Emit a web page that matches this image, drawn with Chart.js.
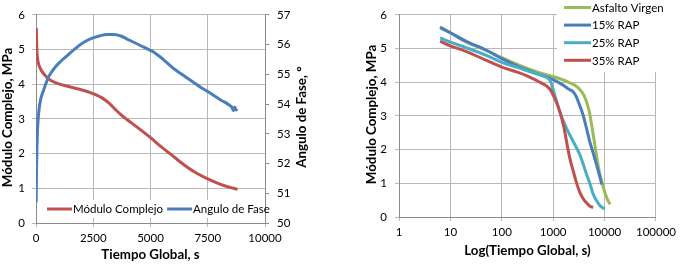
<!DOCTYPE html>
<html><head><meta charset="utf-8">
<script src="https://cdn.jsdelivr.net/npm/chart.js@4/dist/chart.umd.min.js"></script>
<style>
html,body{margin:0;padding:0;background:#fff;width:680px;height:264px;overflow:hidden}
#l{position:absolute;left:0;top:0}
#r{position:absolute;left:340px;top:0}
</style></head><body>
<canvas id="l" width="340" height="264"></canvas>
<canvas id="r" width="340" height="264"></canvas>
<script>
// ---------- Left chart data ----------
const leftNames = ['Módulo Complejo', 'Angulo de Fase'];
const timeModulo = [15,25,40,60,100,170,250,400,600,900,1340,1800,2200,2600,2900,3200,3500,3800,4000,4500,5000,5500,6000,6500,7000,7500,8000,8400,8800];
const modulo     = [5.62,5.30,4.95,4.78,4.62,4.48,4.38,4.25,4.13,4.03,3.95,3.87,3.80,3.70,3.60,3.45,3.25,3.07,2.97,2.72,2.46,2.18,1.92,1.66,1.44,1.27,1.13,1.04,0.97];
const timeFase = [8,15,25,40,60,85,130,200,300,400,540,700,900,1100,1350,1700,2070,2400,2800,3100,3400,3700,4000,4400,4800,5100,5400,5700,6000,6300,6600,6900,7200,7500,7700,7900,8100,8300,8450,8550,8620,8680,8730,8780];
const fase     = [50.7,51.3,51.9,52.5,53.0,53.4,53.8,54.15,54.4,54.62,54.9,55.1,55.3,55.45,55.62,55.86,56.07,56.2,56.3,56.34,56.34,56.29,56.18,56.03,55.88,55.77,55.60,55.40,55.20,55.04,54.88,54.72,54.56,54.42,54.32,54.22,54.12,54.04,53.96,53.90,53.78,53.90,53.80,53.85];
const leftXTicks = [0,2500,5000,7500,10000];
const moduloTicks = [0,1,2,3,4,5,6];
const faseTicks = [50,51,52,53,54,55,56,57];

// ---------- Right chart data ----------
const rightNames = ['Asfalto Virgen','15% RAP','25% RAP','35% RAP'];
const tVirgen = [6.3,10,20,50,100,200,500,1000,2000,3000,4000,5000,6000,7000,8000,9000,10000,11500,12800];
const mVirgen = [5.65,5.47,5.20,4.95,4.73,4.53,4.30,4.17,4.00,3.85,3.60,3.15,2.45,1.80,1.30,1.00,0.75,0.50,0.38];
const tRap15 = [6.3,10,20,50,100,200,500,1000,1500,2000,2500,2840,3300,3830,4500,5140,6000,6940,8000,8800];
const mRap15 = [5.62,5.47,5.22,4.95,4.70,4.48,4.25,4.08,3.93,3.80,3.70,3.56,3.30,3.02,2.60,2.24,1.90,1.56,1.22,0.97];
const tRap25 = [6.3,10,20,50,100,200,500,870,1080,1450,1820,2450,3300,4450,5200,6000,7000,8100,9000,10100];
const mRap25 = [5.32,5.19,5.03,4.80,4.59,4.44,4.24,4.05,3.60,2.98,2.63,2.24,1.85,1.27,0.98,0.68,0.48,0.34,0.28,0.24];
const tRap35 = [6.3,10,20,50,100,200,300,550,860,1080,1350,1600,1820,2100,2450,2800,3300,4000,4800,5500,6000];
const mRap35 = [5.22,5.08,4.92,4.65,4.45,4.30,4.20,4.00,3.80,3.51,3.12,2.70,2.24,1.75,1.37,1.05,0.73,0.50,0.37,0.30,0.29];
const logTicks = [1,10,100,1000,10000,100000];
const rightYTicks = [0,1,2,3,4,5,6];

// ---------- styling ----------
const FONT = 'Lato, "Open Sans", sans-serif';
const GRID = '#b8b8b8';
const AXIS = '#8c8c8c';
const RED = '#c0504d', BLUE = '#4a7ebb', GREEN = '#9bbb59', CYAN = '#4bacc6';
const tickFont = {family: FONT, size: 11.5};

function pts(xs, ys){ return xs.map((x,i)=>({x:x, y:ys[i]})); }
function fixed(list){ return s => { s.ticks = list.map(v=>({value:v})); }; }

function titles(list){
  return {id:'titles', afterDraw(chart){
    const ctx = chart.ctx;
    ctx.save();
    ctx.fillStyle = '#000';
    ctx.font = 'bold 13.3px ' + FONT;
    ctx.textAlign = 'center';
    ctx.textBaseline = 'middle';
    list.forEach(t=>{
      ctx.save(); ctx.translate(t.x, t.y);
      if (t.rot) ctx.rotate(-Math.PI/2);
      ctx.fillText(t.text, 0, 0);
      ctx.restore();
    });
    ctx.restore();
  }};
}

const leftLegend = {id:'leftLegend', afterDraw(chart){
  const ctx = chart.ctx;
  ctx.save();
  ctx.fillStyle = '#fff';
  ctx.fillRect(42, 200, 221, 18);
  ctx.font = '11.5px ' + FONT;
  ctx.textBaseline = 'middle';
  let x = 47; const y = 209;
  chart.data.datasets.forEach(ds=>{
    ctx.strokeStyle = ds.borderColor; ctx.lineWidth = 3;
    ctx.beginPath(); ctx.moveTo(x, y); ctx.lineTo(x+25, y); ctx.stroke();
    x += 26;
    ctx.fillStyle = '#000';
    ctx.fillText(ds.label, x, y+0.5);
    x += ctx.measureText(ds.label).width + 4;
  });
  ctx.restore();
}};

const rightLegend = {id:'rightLegend', afterDraw(chart){
  const ctx = chart.ctx;
  ctx.save();
  ctx.fillStyle = '#fff';
  ctx.fillRect(217, 0, 123, 72);
  ctx.font = '11.5px ' + FONT;
  ctx.textBaseline = 'middle';
  const order = chart.data.datasets.slice().sort((a,b)=>a.legendIndex-b.legendIndex);
  order.forEach((ds,i)=>{
    const y = 7.5 + i*17.6;
    ctx.strokeStyle = ds.borderColor; ctx.lineWidth = 3;
    ctx.beginPath(); ctx.moveTo(224, y); ctx.lineTo(251, y); ctx.stroke();
    ctx.fillStyle = '#000';
    ctx.fillText(ds.label, 252, y+0.5);
  });
  ctx.restore();
}};

const common = {
  responsive:false, animation:false, devicePixelRatio:1,
  plugins:{legend:{display:false}, tooltip:{enabled:false}},
  elements:{point:{radius:0}, line:{borderWidth:3, cubicInterpolationMode:'monotone', borderCapStyle:'butt'}}
};

new Chart(document.getElementById('l'), {
  type:'scatter',
  data:{datasets:[
    {label:leftNames[0], data:pts(timeModulo, modulo), showLine:true, borderColor:RED, backgroundColor:RED, yAxisID:'y', order:2},
    {label:leftNames[1], data:pts(timeFase, fase), showLine:true, borderColor:BLUE, backgroundColor:BLUE, yAxisID:'y1', order:1}
  ]},
  options:Object.assign({}, common, {
    layout:{padding:{top:12, left:0, right:0, bottom:0}},
    scales:{
      x:{type:'linear', min:0, max:10000, afterBuildTicks:fixed(leftXTicks), afterFit:s=>{s.height=41;},
         grid:{color:GRID, tickLength:4}, border:{color:AXIS},
         ticks:{padding:4, font:tickFont, color:'#000', maxRotation:0, callback:v=>String(v)}},
      y:{position:'left', min:0, max:6, afterBuildTicks:fixed(moduloTicks), afterFit:s=>{s.width=36;},
         grid:{color:GRID, tickLength:4}, border:{color:AXIS},
         ticks:{padding:7, font:tickFont, color:'#000', callback:v=>String(v)}},
      y1:{position:'right', min:50, max:57, afterBuildTicks:fixed(faseTicks), afterFit:s=>{s.width=75;},
         grid:{drawOnChartArea:false, color:AXIS, tickLength:4}, border:{color:AXIS},
         ticks:{padding:8, font:tickFont, color:'#000', callback:v=>String(v)}}
    }
  }),
  plugins:[leftLegend, titles([
    {text:'Módulo Complejo, MPa', x:8, y:117.5, rot:true},
    {text:'Angulo de Fase, °', x:302, y:117, rot:true},
    {text:'Tiempo Global, s', x:150.5, y:255}
  ])]
});

new Chart(document.getElementById('r'), {
  type:'scatter',
  data:{datasets:[
    {label:rightNames[0], data:pts(tVirgen, mVirgen), showLine:true, borderColor:GREEN, backgroundColor:GREEN, order:4, legendIndex:0},
    {label:rightNames[1], data:pts(tRap15, mRap15), showLine:true, borderColor:BLUE, backgroundColor:BLUE, order:3, legendIndex:1},
    {label:rightNames[2], data:pts(tRap25, mRap25), showLine:true, borderColor:CYAN, backgroundColor:CYAN, order:2, legendIndex:2},
    {label:rightNames[3], data:pts(tRap35, mRap35), showLine:true, borderColor:RED, backgroundColor:RED, order:1, legendIndex:3}
  ]},
  options:Object.assign({}, common, {
    layout:{padding:{top:12, left:0, right:24, bottom:0}},
    scales:{
      x:{type:'logarithmic', min:1, max:100000, afterBuildTicks:fixed(logTicks), afterFit:s=>{s.height=47;},
         grid:{color:GRID, tickLength:4}, border:{color:AXIS},
         ticks:{padding:4, font:tickFont, color:'#000', maxRotation:0, autoSkip:false, callback:v=>String(v)}},
      y:{position:'left', min:0, max:6, afterBuildTicks:fixed(rightYTicks), afterFit:s=>{s.width=59;},
         grid:{color:GRID, tickLength:4}, border:{color:AXIS},
         ticks:{padding:8, font:tickFont, color:'#000', callback:v=>String(v)}}
    }
  }),
  plugins:[rightLegend, titles([
    {text:'Módulo Complejo, MPa', x:32, y:114.5, rot:true},
    {text:'Log(Tiempo Global, s)', x:187.5, y:251}
  ])]
});
</script>
</body></html>
